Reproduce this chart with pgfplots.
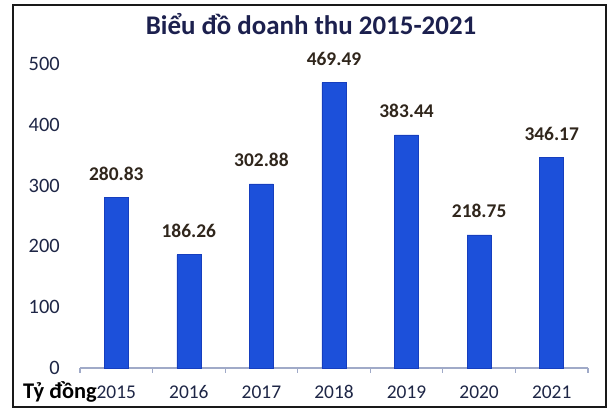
\documentclass[border=0pt]{standalone}
\usepackage{fontspec}
\setmainfont{Carlito}
\usepackage{pgfplots}
\pgfplotsset{compat=1.18}
\definecolor{barblue}{RGB}{28,80,218}
\definecolor{baredge}{RGB}{22,62,190}
\definecolor{titlenavy}{RGB}{28,32,78}
\definecolor{ticknavy}{RGB}{30,38,70}
\definecolor{lblcol}{RGB}{48,38,28}
\definecolor{axgray}{RGB}{160,170,200}
\definecolor{framecol}{RGB}{25,25,25}
\begin{document}
\begin{tikzpicture}
\fill[white] (0bp,0bp) rectangle (610bp,410bp);
\fill[framecol] (12bp,2bp) rectangle (607bp,4bp);
\fill[framecol] (12bp,404bp) rectangle (607bp,406bp);
\fill[framecol] (12bp,2bp) rectangle (14bp,406bp);
\fill[framecol] (605bp,2bp) rectangle (607bp,406bp);
\fill[axgray] (80bp,41.4bp) rectangle (588bp,42.6bp);
\fill[axgray] (79.4bp,37bp) rectangle (80.6bp,42bp);
\fill[axgray] (151.97bp,37bp) rectangle (153.17bp,42bp);
\fill[axgray] (224.54bp,37bp) rectangle (225.74bp,42bp);
\fill[axgray] (297.11bp,37bp) rectangle (298.31bp,42bp);
\fill[axgray] (369.69bp,37bp) rectangle (370.89bp,42bp);
\fill[axgray] (442.26bp,37bp) rectangle (443.46bp,42bp);
\fill[axgray] (514.83bp,37bp) rectangle (516.03bp,42bp);
\fill[axgray] (587.4bp,37bp) rectangle (588.6bp,42bp);
\node[anchor=base,font=\fontsize{27}{30}\selectfont\bfseries,text=titlenavy] at (311bp,375bp) {Biểu đồ doanh thu 2015-2021};
\node[anchor=base west,inner sep=0pt,font=\fontsize{22.5}{25}\selectfont\bfseries,text=black] at (23bp,12bp) {Tỷ đồng};
\begin{axis}[
  at={(80bp,42bp)}, anchor=south west,
  scale only axis, width=508bp, height=304bp,
  xmin=-0.5, xmax=6.5, ymin=0, ymax=500,
  axis line style={draw=none},
  major tick length=0pt,
  xtick={0,1,2,3,4,5,6},
  xticklabels={2015,2016,2017,2018,2019,2020,2021},
  ytick={0,100,200,300,400,500},
  /pgf/number format/assume math mode=true,
  xticklabel style={anchor=base, yshift=-30bp, inner sep=0pt, font=\fontsize{19.5}{22}\selectfont, text=ticknavy},
  yticklabel style={anchor=east, xshift=-20bp, inner sep=0pt, font=\fontsize{20.5}{23}\selectfont, text=ticknavy},
  ybar, bar width=24bp,
  nodes near coords,
  nodes near coords style={anchor=base, yshift=17bp, inner sep=0pt, font=\fontsize{19.5}{22}\selectfont\bfseries, text=lblcol, /pgf/number format/.cd, fixed, fixed zerofill, precision=2, assume math mode=true},
  clip=false,
]
\addplot[fill=barblue, draw=baredge, line width=0.6bp] coordinates {
  (0,280.83) (1,186.26) (2,302.88) (3,469.49) (4,383.44) (5,218.75) (6,346.17)
};
\end{axis}
\end{tikzpicture}
\end{document}
